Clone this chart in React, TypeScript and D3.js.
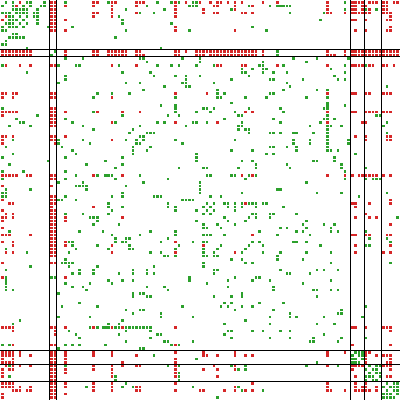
import React from "react";
import * as d3 from "d3";

// football network adjacency, upper triangle only: [row, columns]
const boundaries = [14, 16, 101, 105, 110];

// the grid is not quite even in the picture, so index -> pixel anchors
const gridIndex = [0, 14, 27, 31, 50, 56, 60, 79, 88, 101, 114];
const gridPixel = [1, 50, 96, 107.3, 174, 195, 209, 276, 305.2, 351, 396];

const greenLinks: [number, number[]][] = [
  [0, [1, 3, 7, 8, 12, 18, 31, 45, 49, 51, 55, 56, 99]],
  [1, [3, 6, 8, 11, 12, 42, 54, 55, 56, 71, 77, 79, 80, 81, 82, 83]],
  [2, [3, 4, 5, 6, 7, 10, 36, 47, 66, 99, 105, 108]],
  [3, [4, 5, 6, 7, 9, 10, 40, 44, 83, 93]],
  [4, [5, 7, 9, 10, 34]],
  [5, [6, 10, 35, 92]],
  [6, [7, 10, 35, 49]],
  [7, [13, 20, 72]],
  [8, [36, 54, 76]],
  [10, [33]],
  [13, [46]],
  [14, [15, 79]],
  [15, [79]],
  [16, [18, 23, 40, 41, 52, 57, 84, 91, 100]],
  [17, [42, 57, 75, 88]],
  [18, [21, 22, 34, 45, 49, 51, 56, 61, 74, 75, 81, 99, 105]],
  [19, [69, 72, 75, 76, 95]],
  [20, [35, 43, 69, 70, 75, 78, 82, 99]],
  [21, [44, 50, 53, 57, 71, 96]],
  [22, [53, 66, 77, 78, 87, 97, 99]],
  [23, [36, 40, 52, 53, 61, 82]],
  [24, [47, 53, 54, 83, 111]],
  [25, [41, 62, 81, 91, 94]],
  [26, [27, 32, 37, 62, 64, 77, 78]],
  [27, [50, 62, 63, 70, 76, 88, 94]],
  [29, [66, 94]],
  [30, [46, 50, 94, 99]],
  [31, [50, 58, 59, 61, 71, 80, 93, 94]],
  [32, [50, 56, 60, 67, 81]],
  [33, [35, 48, 51, 68, 69, 94, 108, 109]],
  [34, [64, 78, 93, 94, 96]],
  [35, [45, 47, 55, 56, 59, 69, 80, 92, 111]],
  [36, [40, 53, 68, 69, 89, 94, 95, 98, 110]],
  [37, [38, 68, 70, 71, 94]],
  [38, [42, 43, 44, 71, 77, 78, 80, 84, 85, 90, 94, 111]],
  [39, [40, 41, 94]],
  [40, [41, 50, 67, 84, 89, 94, 100]],
  [41, [52, 84, 89, 94, 100]],
  [42, [43, 77, 78, 82, 85, 94]],
  [43, [66, 72, 85, 94, 95, 97]],
  [44, [56, 76, 78, 102]],
  [45, [56, 96]],
  [46, [56, 69, 72, 90, 91, 96]],
  [47, [73, 82, 98]],
  [48, [51, 58, 59, 68, 73, 83, 98, 105]],
  [49, [99]],
  [50, [59, 60, 66, 67, 71, 73]],
  [51, [70, 99, 105, 107, 108, 109]],
  [52, [57, 88]],
  [53, [57]],
  [54, [57, 79, 80]],
  [55, [57, 69, 91, 98, 111]],
  [56, [60, 63, 103]],
  [58, [59, 61, 64, 65, 67, 69, 71, 72, 73, 75, 76]],
  [59, [60, 65, 67, 69, 73, 81]],
  [60, [61, 67]],
  [61, [72, 73, 77, 78, 85]],
  [62, [64, 71, 73, 77, 114]],
  [63, [65, 70, 88]],
  [64, [67, 87, 93, 96]],
  [65, [80, 82, 88, 95]],
  [66, [74, 85, 87, 95, 97, 105]],
  [67, [79, 89]],
  [68, [106, 111]],
  [69, [72, 74, 84, 85, 88, 112]],
  [70, [71, 75, 92, 105, 106]],
  [72, [75, 80, 88, 95]],
  [73, [79]],
  [74, [79, 87]],
  [75, [95, 112]],
  [77, [80, 91, 93, 97]],
  [78, [82, 83, 89]],
  [80, [95]],
  [81, [87]],
  [83, [90, 91, 95, 97]],
  [85, [91]],
  [88, [105]],
  [89, [98]],
  [90, [97, 98]],
  [91, [93, 104]],
  [93, [96]],
  [97, [98, 105]],
  [101, [102, 103, 104]],
  [102, [103, 104]],
  [103, [104]],
  [105, [106, 108, 109]],
  [106, [107, 108]],
  [107, [108, 109]],
  [108, [109]],
  [110, [111, 113, 114]],
  [111, [112, 113, 114]],
  [112, [113, 114]],
  [113, [114]],
];

const redLinks: [number, number[]][] = [
  [0, [5, 14, 15, 26, 27, 32, 33, 39, 40, 41, 50, 53, 57, 60, 62, 63, 65, 67, 69, 75, 79, 94, 101, 102, 103, 104, 106, 107, 108, 110, 111, 113, 114]],
  [1, [4, 14, 15, 18, 26, 32, 39, 50, 61, 62, 67, 72, 94, 101, 102, 104, 105, 110, 111]],
  [2, [14, 15, 32, 50, 58, 67, 94, 101, 102, 104, 106, 110, 111]],
  [3, [14, 15, 26, 27, 32, 39, 50, 58, 61, 62, 69, 70, 72, 94, 95, 99, 101, 102, 103, 104, 105, 106, 110, 111, 112]],
  [4, [14, 15, 26, 32, 50, 112]],
  [5, [14, 15, 18, 101, 102, 105, 111, 112]],
  [6, [14, 15]],
  [7, [14, 15, 50, 112]],
  [8, [14, 15, 18, 50, 67, 102, 105, 111, 112]],
  [14, [18, 26, 27, 31, 32, 33, 34, 35, 36, 39, 40, 50, 51, 53, 56, 57, 58, 59, 60, 61, 62, 63, 64, 65, 66, 67, 68, 69, 70, 71, 72, 73, 75, 94, 99, 101, 102, 103, 104, 105, 106, 107, 108, 109, 110, 111, 112, 113, 114]],
  [15, [18, 26, 27, 31, 32, 33, 34, 35, 36, 39, 40, 41, 50, 51, 56, 57, 58, 60, 61, 62, 63, 64, 65, 66, 67, 68, 69, 70, 71, 72, 73, 75, 94, 95, 96, 99, 101, 102, 103, 104, 105, 106, 107, 108, 109, 110, 111, 112, 113, 114]],
  [18, [32, 39, 62, 63, 69, 70, 79, 94, 101, 102, 103, 104, 106, 107, 110, 111, 113]],
  [26, [50, 59, 94, 101, 102, 105, 106, 110, 111, 112]],
  [27, [32]],
  [32, [35, 40, 70, 72, 94, 101, 102, 105, 106, 107, 108, 110, 111, 112]],
  [35, [50, 62, 94, 104, 105]],
  [39, [102, 105, 111, 112]],
  [40, [105, 111, 112]],
  [50, [69, 72, 94, 99, 101, 103, 104, 105, 106, 107, 108, 110, 112]],
  [57, [112]],
  [58, [70, 101, 102, 106, 112]],
  [59, [102]],
  [61, [105]],
  [62, [102, 106, 108]],
  [64, [112]],
  [67, [72, 101, 102, 105, 106, 111, 112]],
  [70, [102, 112]],
  [72, [102, 110, 112]],
  [94, [101, 102, 105, 110, 111, 112]],
  [95, [112]],
  [99, [101, 112]],
  [101, [105, 106]],
  [102, [105, 108, 110, 111, 112]],
  [103, [105, 112]],
  [104, [105, 111, 112]],
  [105, [110, 111, 112]],
  [106, [112]],
  [108, [111, 112]],
];

const width = 400;
const height = 400;
const cellSize = 2.5;

const pos = d3.scaleLinear().domain(gridIndex).range(gridPixel);

// the matrix is symmetric, draw each link on both sides of the diagonal
const toCells = (links: [number, number[]][]) =>
  links.flatMap(([row, cols]) =>
    cols.flatMap((col) => [
      { row, col },
      { row: col, col: row },
    ])
  );

const layers = [
  { color: "#2ca02c", cells: toCells(greenLinks) },
  { color: "#d62728", cells: toCells(redLinks) },
];

const App = () => {
  return (
    <svg
      width={width}
      height={height}
      style={{ position: "absolute", left: 0, top: 0, display: "block", background: "#fff" }}
    >
      {layers.map((layer) => (
        <g key={layer.color} fill={layer.color} shapeRendering="crispEdges">
          {layer.cells.map((d) => (
            <rect
              key={d.row + "-" + d.col}
              x={pos(d.col)}
              y={pos(d.row)}
              width={cellSize}
              height={cellSize}
            />
          ))}
        </g>
      ))}
      <g stroke="#000" strokeWidth={1} shapeRendering="crispEdges">
        {boundaries.map((b) => (
          <React.Fragment key={b}>
            <line x1={pos(b) - 0.5} x2={pos(b) - 0.5} y1={0} y2={height} />
            <line x1={0} x2={width} y1={pos(b) - 0.5} y2={pos(b) - 0.5} />
          </React.Fragment>
        ))}
      </g>
    </svg>
  );
};

export default App;
